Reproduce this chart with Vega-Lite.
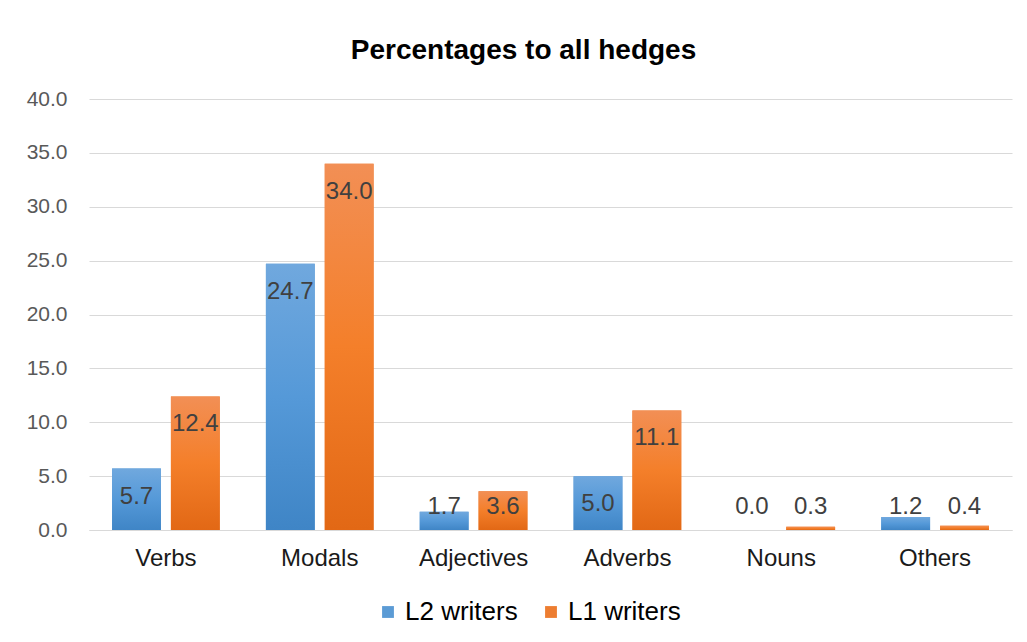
{
  "$schema": "https://vega.github.io/schema/vega-lite/v6.json",
  "autosize": {"type": "none"},
  "width": 923,
  "height": 431,
  "padding": {"left": 89, "top": 99, "right": 15, "bottom": 112},
  "background": "white",
  "config": {
    "font": "Liberation Sans",
    "view": {"stroke": null}
  },
  "title": {
    "text": "Percentages to all hedges",
    "font": "Liberation Sans",
    "fontSize": 28,
    "fontWeight": "bold",
    "color": "#000000",
    "anchor": "middle",
    "frame": "group",
    "dx": -27,
    "baseline": "alphabetic",
    "offset": 1
  },
  "data": {
    "values": [
      {"category": "Verbs", "series": "L2 writers", "value": 5.7},
      {"category": "Verbs", "series": "L1 writers", "value": 12.4},
      {"category": "Modals", "series": "L2 writers", "value": 24.7},
      {"category": "Modals", "series": "L1 writers", "value": 34.0},
      {"category": "Adjectives", "series": "L2 writers", "value": 1.7},
      {"category": "Adjectives", "series": "L1 writers", "value": 3.6},
      {"category": "Adverbs", "series": "L2 writers", "value": 5.0},
      {"category": "Adverbs", "series": "L1 writers", "value": 11.1},
      {"category": "Nouns", "series": "L2 writers", "value": 0.0},
      {"category": "Nouns", "series": "L1 writers", "value": 0.3},
      {"category": "Others", "series": "L2 writers", "value": 1.2},
      {"category": "Others", "series": "L1 writers", "value": 0.4}
    ]
  },
  "encoding": {
    "x": {
      "field": "category",
      "type": "nominal",
      "sort": ["Verbs", "Modals", "Adjectives", "Adverbs", "Nouns", "Others"],
      "scale": {"paddingInner": 0.3, "paddingOuter": 0.15},
      "axis": {
        "title": null,
        "labelAngle": 0,
        "ticks": false,
        "domain": true,
        "domainColor": "#d9d9d9",
        "domainWidth": 1,
        "labelFont": "Liberation Sans",
        "labelFontSize": 24,
        "labelColor": "#1a1a1a",
        "labelPadding": 16
      }
    },
    "xOffset": {
      "field": "series",
      "type": "nominal",
      "sort": ["L2 writers", "L1 writers"],
      "scale": {"paddingInner": 0.17, "paddingOuter": 0}
    },
    "y": {
      "field": "value",
      "type": "quantitative",
      "scale": {"domain": [0, 40]},
      "axis": {
        "title": null,
        "values": [0, 5, 10, 15, 20, 25, 30, 35, 40],
        "format": ".1f",
        "grid": true,
        "gridColor": "#d9d9d9",
        "gridWidth": 1,
        "domain": false,
        "ticks": false,
        "labelFont": "Liberation Sans",
        "labelFontSize": 21,
        "labelColor": "#595959",
        "labelPadding": 22
      }
    }
  },
  "layer": [
    {
      "mark": {"type": "bar"},
      "encoding": {
        "color": {
          "field": "series",
          "type": "nominal",
          "scale": {"domain": ["L2 writers", "L1 writers"], "range": ["#5b9bd5", "#ed7d31"]},
          "legend": {
            "title": null,
            "orient": "none",
            "direction": "horizontal",
            "legendX": 286,
            "legendY": 500,
            "symbolType": "square",
            "symbolSize": 140,
            "symbolStrokeWidth": 0,
            "labelFont": "Liberation Sans",
            "labelFontSize": 26,
            "labelColor": "#000000",
            "labelOffset": 4,
            "columnPadding": 20
          }
        }
      }
    },
    {
      "mark": {"type": "bar"},
      "encoding": {
        "fill": {
          "condition": {
            "test": "datum.series === 'L2 writers'",
            "value": {
              "gradient": "linear",
              "x1": 0, "y1": 0, "x2": 0, "y2": 1,
              "stops": [
                {"offset": 0, "color": "#70a8de"},
                {"offset": 0.5, "color": "#5599d8"},
                {"offset": 1, "color": "#3f85c6"}
              ]
            }
          },
          "value": {
            "gradient": "linear",
            "x1": 0, "y1": 0, "x2": 0, "y2": 1,
            "stops": [
              {"offset": 0, "color": "#f28f55"},
              {"offset": 0.5, "color": "#f47f2a"},
              {"offset": 1, "color": "#e26815"}
            ]
          }
        }
      }
    },
    {
      "transform": [{"calculate": "max(datum.value, 4.7)", "as": "labelPos"}],
      "mark": {
        "type": "text",
        "font": "Liberation Sans",
        "fontSize": 24,
        "color": "#404040",
        "baseline": "alphabetic",
        "dy": 35
      },
      "encoding": {
        "y": {"field": "labelPos", "type": "quantitative"},
        "text": {"field": "value", "type": "quantitative", "format": ".1f"}
      }
    }
  ]
}
